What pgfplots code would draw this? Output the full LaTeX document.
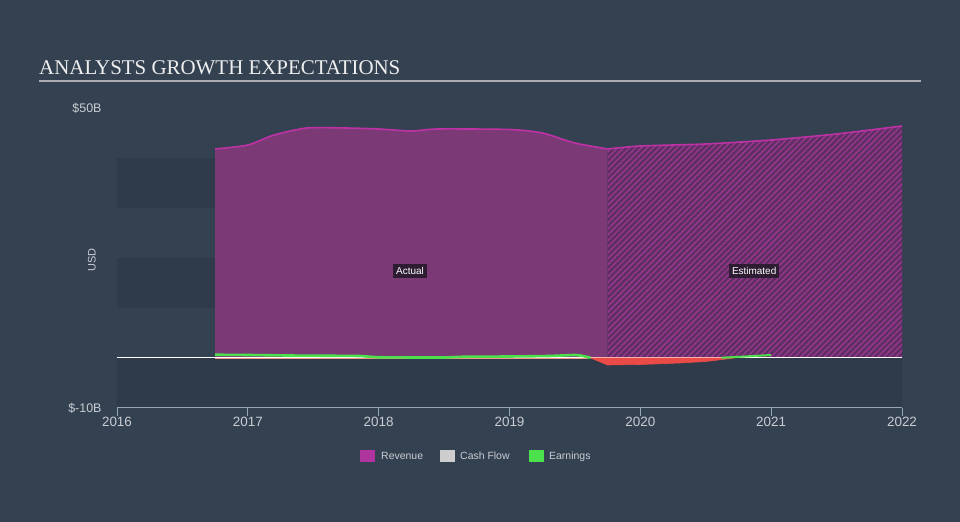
\documentclass[border=0pt]{standalone}
\usepackage{pgfplots}
\pgfplotsset{compat=1.18}
\usetikzlibrary{patterns.meta}
\usepackage{fontspec}
\setmainfont{Liberation Serif}
\newfontfamily\sans{Liberation Sans}
\definecolor{bg}{RGB}{52,65,81}
\definecolor{band}{RGB}{47,59,74}
\definecolor{revfill}{RGB}{123,57,118}
\definecolor{revline}{RGB}{190,50,165}
\definecolor{estbase}{RGB}{95,46,98}
\definecolor{hatch}{RGB}{150,55,142}
\definecolor{earngreen}{RGB}{76,224,76}
\definecolor{earnred}{RGB}{235,75,70}
\definecolor{salmon}{RGB}{240,150,140}
\definecolor{txt}{RGB}{200,205,212}
\definecolor{titlec}{RGB}{238,238,238}
\definecolor{rule}{RGB}{170,172,178}
\definecolor{axisc}{RGB}{150,165,182}
\definecolor{labelbg}{RGB}{45,28,50}
\definecolor{revsq}{RGB}{176,52,158}
\definecolor{cfsq}{RGB}{205,205,205}
\begin{document}
\begin{tikzpicture}[x=1bp,y=1bp]
\fill[bg] (0,0) rectangle (960,522);
\node[anchor=base west, font=\fontsize{21}{21}\selectfont, text=titlec, inner sep=0] at (39,447) {ANALYSTS GROWTH EXPECTATIONS};
\draw[rule, line width=1.5bp] (39,441) -- (921,441);
\begin{axis}[
  at={(117bp,114bp)}, anchor=south west,
  scale only axis, width=785bp, height=300bp,
  xmin=2016, xmax=2022, ymin=-10, ymax=50,
  axis line style={draw=none},
  xtick={2016,2017,2018,2019,2020,2021,2022},
  xticklabels={2016,2017,2018,2019,2020,2021,2022},
  ytick={-10,50}, yticklabels={\$-10B,\$50B},
  xtick pos=lower, ytick pos=left,
  tick align=outside, major tick length=8bp,
  x tick style={axisc, line width=1bp},
  y tick style={draw=none},
  tick label style={font=\sans, text=txt},
  x tick label style={font=\sans\fontsize{13.5}{14}\selectfont, yshift=2bp},
  y tick label style={font=\sans\fontsize{12.5}{13}\selectfont, xshift=-4bp},
  /pgf/number format/assume math mode=true,
  ylabel={USD},
  ylabel style={font=\sans\fontsize{11}{12}\selectfont, text=txt, at={(axis description cs:-0.032,0.493)}, anchor=center},
  clip=false,
]
\fill[band] (axis cs:2016,30) rectangle (axis cs:2022,40);
\fill[band] (axis cs:2016,10) rectangle (axis cs:2022,20);
\fill[band] (axis cs:2016,-10) rectangle (axis cs:2022,0);
% Revenue actual
\addplot[draw=none, fill=revfill, smooth, tension=0.4] coordinates {
(2016.75,41.8) (2017.0,42.6) (2017.2,44.6) (2017.45,46.0) (2017.75,46.0) (2018.0,45.8) (2018.25,45.4) (2018.45,45.8) (2019.0,45.7) (2019.25,45.0) (2019.5,43.0) (2019.75,41.8)
} \closedcycle;
% Revenue estimated
\addplot[draw=none, fill=estbase, postaction={pattern={Lines[angle=45,distance=4.2bp,line width=1.5bp]}, pattern color=hatch}, smooth, tension=0.4] coordinates {
(2019.75,41.8) (2020.0,42.4) (2020.5,42.8) (2021.0,43.6) (2021.5,44.8) (2022.0,46.4)
} \closedcycle;
% Revenue top line
\addplot[revline, line width=1.6bp, smooth, tension=0.4] coordinates {
(2016.75,41.8) (2017.0,42.6) (2017.2,44.6) (2017.45,46.0) (2017.75,46.0) (2018.0,45.8) (2018.25,45.4) (2018.45,45.8) (2019.0,45.7) (2019.25,45.0) (2019.5,43.0) (2019.75,41.8)
};
\addplot[revline, line width=1.6bp, smooth, tension=0.4] coordinates {
(2019.75,41.8) (2020.0,42.4) (2020.5,42.8) (2021.0,43.6) (2021.5,44.8) (2022.0,46.4)
};
% zero line
\addplot[white, line width=1bp] coordinates {(2016,0) (2022,0)};
\addplot[salmon, line width=1bp] coordinates {(2016.75,-0.1) (2019.6,-0.1)};
% Earnings negative
\addplot[draw=earnred, fill=earnred, line width=0.6bp] coordinates {
(2019.62,0) (2019.75,-1.4) (2020.0,-1.3) (2020.3,-1.0) (2020.5,-0.7) (2020.72,0)
} \closedcycle;
% Earnings positive
\addplot[earngreen, line width=2.6bp, smooth, tension=0.3] coordinates {
(2016.75,0.65) (2017.0,0.6) (2017.3,0.5) (2017.6,0.45) (2017.85,0.4) (2018.0,0.15) (2018.3,0.1) (2018.5,0.1) (2018.65,0.25) (2019.0,0.3) (2019.3,0.4) (2019.5,0.6) (2019.56,0.4) (2019.62,0.05)
};
\addplot[earngreen, line width=2bp] coordinates {
(2020.62,0.05) (2020.8,0.3) (2021.0,0.6)
};
% axis line
\draw[axisc, line width=1bp] (axis cs:2016,-10) -- (axis cs:2022,-10);
\node[fill=labelbg, text=white, font=\sans\fontsize{10}{10}\selectfont, inner sep=3bp] at (axis cs:2018.24,17.4) {Actual};
\node[fill=labelbg, text=white, font=\sans\fontsize{10}{10}\selectfont, inner sep=3bp] at (axis cs:2020.87,17.4) {Estimated};
\end{axis}
% legend
\fill[revsq] (360,60) rectangle (375,72);
\node[anchor=base west, inner sep=0, text=txt, font=\sans\fontsize{10.5}{11}\selectfont] at (381,62.2) {Revenue};
\fill[cfsq] (440,60) rectangle (455,72);
\node[anchor=base west, inner sep=0, text=txt, font=\sans\fontsize{10.5}{11}\selectfont] at (460,62.2) {Cash Flow};
\fill[earngreen] (529,60) rectangle (544,72);
\node[anchor=base west, inner sep=0, text=txt, font=\sans\fontsize{10.5}{11}\selectfont] at (549,62.2) {Earnings};
\end{tikzpicture}
\end{document}
